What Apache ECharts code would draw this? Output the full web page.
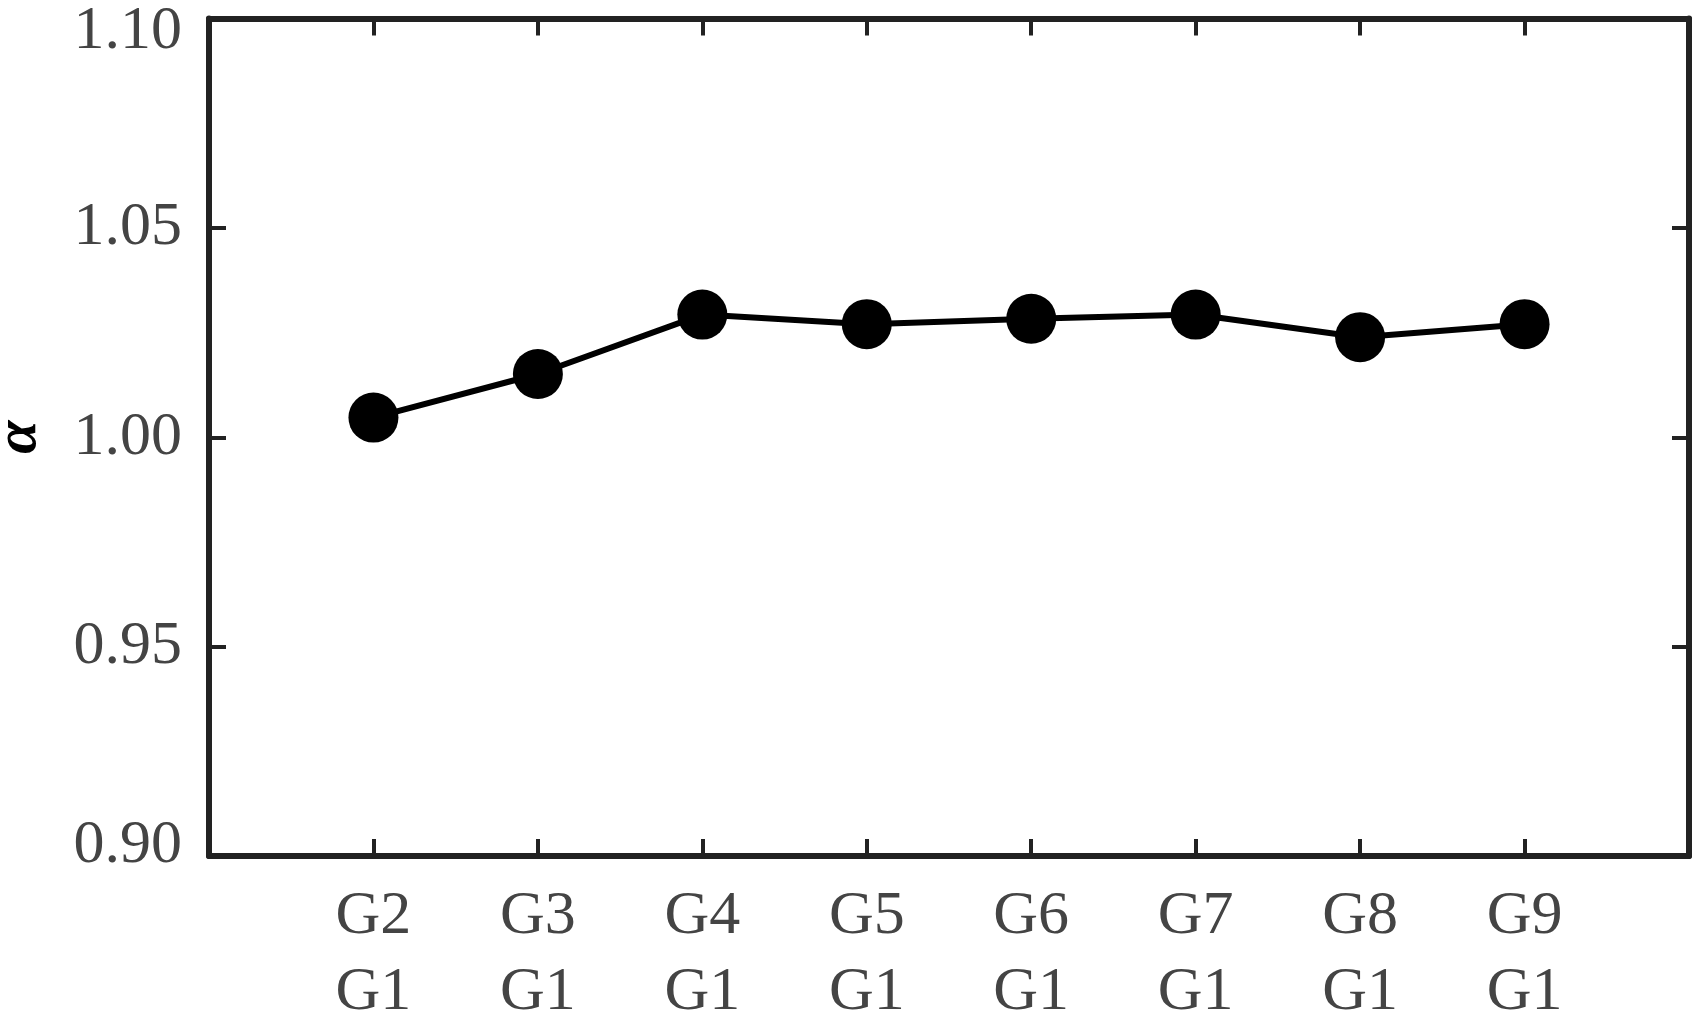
<!DOCTYPE html>
<html>
<head>
<meta charset="utf-8">
<script src="https://cdn.jsdelivr.net/npm/echarts@6/dist/echarts.min.js"></script>
<style>
html,body{margin:0;padding:0;background:#fff;}
#chart{width:1698px;height:1018px;}
</style>
</head>
<body>
<div id="chart"></div>
<script>
const categories = ['G2','G3','G4','G5','G6','G7','G8','G9'];
const denominators = ['G1','G1','G1','G1','G1','G1','G1','G1'];
const alphaValues = [1.0047, 1.0151, 1.0293, 1.0270, 1.0283, 1.0293, 1.0239, 1.0270];
const yTicks = [0.90, 0.95, 1.00, 1.05, 1.10];

const FONT = "'Liberation Serif', 'Times New Roman', serif";
const AX = '#222';
const LBL = '#444';
const seriesData = alphaValues.map((v, i) => [i + 1, v]);
const yMin = yTicks[0], yMax = yTicks[yTicks.length - 1];

const axisLine = {show: true, onZero: false, lineStyle: {color: AX, width: 6}};
const tick = {show: true, inside: true, length: 17, lineStyle: {color: AX, width: 4}};
const lblFont = {fontFamily: FONT, fontSize: 62, color: LBL};

const chart = echarts.init(document.getElementById('chart'));
chart.setOption({
  backgroundColor: '#fff',
  animation: false,
  grid: {left: 209, right: 9, top: 18.5, bottom: 162, containLabel: false, outerBoundsMode: 'none'},
  xAxis: [
    {
      type: 'value', position: 'bottom', min: 0, max: categories.length + 1, interval: 1,
      axisLine: axisLine, axisTick: tick, splitLine: {show: false},
      axisLabel: {
        show: true, margin: 23, fontFamily: FONT, fontSize: 62, lineHeight: 76, color: LBL,
        formatter: v => (v >= 1 && v <= categories.length) ? categories[v - 1] + '\n' + denominators[v - 1] : ''
      }
    },
    {
      type: 'value', position: 'top', min: 0, max: categories.length + 1, interval: 1,
      axisLine: axisLine, axisTick: tick, splitLine: {show: false}, axisLabel: {show: false}
    }
  ],
  yAxis: [
    {
      type: 'value', position: 'left', min: yMin, max: yMax, interval: 0.05,
      axisLine: axisLine, axisTick: tick, splitLine: {show: false},
      axisLabel: {
        show: true, margin: 27, fontFamily: FONT, fontSize: 62, color: LBL,
        formatter: v => {
          const s = v.toFixed(2);
          if (Math.abs(v - yMax) < 1e-9) return '{mx|' + s + '}';
          if (Math.abs(v - yMin) < 1e-9) return '{mn|' + s + '}';
          return '{md|' + s + '}';
        },
        rich: {
          mx: Object.assign({padding: [26, 0, 0, 0]}, lblFont),
          mn: Object.assign({padding: [0, 0, 20, 0]}, lblFont),
          md: Object.assign({}, lblFont)
        }
      },
      name: 'α', nameLocation: 'middle', nameGap: 160, nameRotate: 90,
      nameTextStyle: {fontFamily: FONT, fontSize: 60, fontWeight: 'bold', fontStyle: 'italic', color: '#000'}
    },
    {
      type: 'value', position: 'right', min: yMin, max: yMax, interval: 0.05,
      axisLine: axisLine, axisTick: tick, splitLine: {show: false}, axisLabel: {show: false}
    }
  ],
  series: [{
    type: 'line', xAxisIndex: 0, yAxisIndex: 0, data: seriesData,
    symbol: 'circle', symbolSize: 50,
    lineStyle: {color: '#000', width: 6},
    itemStyle: {color: '#000'}
  }]
});
</script>
</body>
</html>
